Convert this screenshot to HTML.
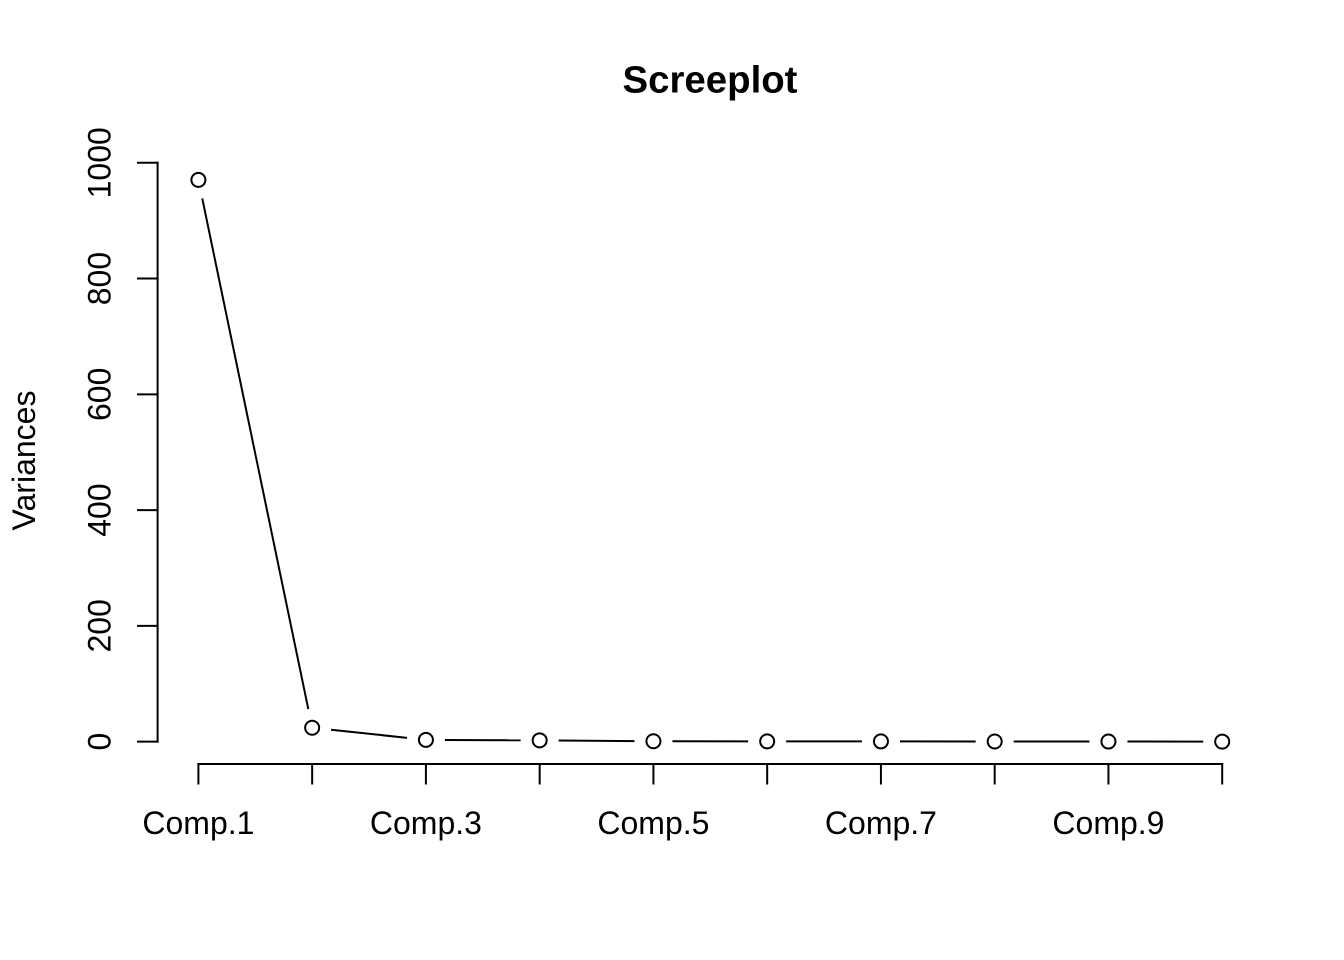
<!DOCTYPE html>
<html>
<head>
<meta charset="utf-8">
<style>
html,body{margin:0;padding:0;background:#fff;}
svg{display:block;}
text{font-family:"Liberation Sans",Arial,sans-serif;fill:#000;}
</style>
</head>
<body>
<svg id="chart" width="1344" height="960" viewBox="0 0 1344 960" xmlns="http://www.w3.org/2000/svg">
<rect width="1344" height="960" fill="#fff"/>
<text x="710" y="92.5" font-size="38.4" font-weight="bold" text-anchor="middle">Screeplot</text>
<text transform="translate(35,460.5) rotate(-90)" font-size="32" text-anchor="middle">Variances</text>
<g id="yaxis"></g>
<g id="xaxis"></g>
<g id="series"></g>
</svg>
<script>
const categories = ["Comp.1","Comp.2","Comp.3","Comp.4","Comp.5","Comp.6","Comp.7","Comp.8","Comp.9","Comp.10"];
const variances = [970.5, 24, 3, 2.2, 0.6, 0.4, 0.3, 0.2, 0.1, 0.05];
const yTicks = [0, 200, 400, 600, 800, 1000];
const xLabels = ["Comp.1","","Comp.3","","Comp.5","","Comp.7","","Comp.9",""];

const NS = "http://www.w3.org/2000/svg";
function xScale(i){ return 198.4 + i * (1222.2 - 198.4) / 9; }
function yScale(v){ return 741.6 - v * (741.6 - 162.8) / 1000; }
function mk(tag, attrs, parent){
  const el = document.createElementNS(NS, tag);
  for (const k in attrs) el.setAttribute(k, attrs[k]);
  parent.appendChild(el);
  return el;
}
const stroke = {stroke:"#000","stroke-width":2,fill:"none","stroke-linecap":"square"};
const yG = document.getElementById("yaxis");
const xG = document.getElementById("xaxis");
const sG = document.getElementById("series");

const yLine = mk("line", {...stroke, x1:157.6, x2:157.6, y1:yScale(yTicks[0]), y2:yScale(yTicks[yTicks.length-1])}, yG);


yTicks.forEach(t => {
  const tick = mk("line", {...stroke, x1:138, x2:157.6, y1:yScale(t), y2:yScale(t)}, yG);
  
  
  const lab = mk("text", {transform:`translate(110.5,${yScale(t)}) rotate(-90)`, "font-size":32, "text-anchor":"middle"}, yG);
  
  
  lab.textContent = t;
});

const xLine = mk("line", {...stroke, x1:xScale(0), x2:xScale(categories.length-1), y1:764, y2:764}, xG);


categories.forEach((c,i) => {
  const tick = mk("line", {...stroke, x1:xScale(i), x2:xScale(i), y1:764, y2:783.5}, xG);
  
  
  if (xLabels[i]) {
    const lab = mk("text", {x:xScale(i), y:834, "font-size":32, "text-anchor":"middle"}, xG);
    
    
    lab.textContent = xLabels[i];
  }
});

// R type="b": segments stop short of each point
const gap = 19;
for (let i = 0; i < variances.length - 1; i++) {
  const x1 = xScale(i), y1 = yScale(variances[i]);
  const x2 = xScale(i+1), y2 = yScale(variances[i+1]);
  const d = Math.hypot(x2-x1, y2-y1);
  const ux = (x2-x1)/d, uy = (y2-y1)/d;
  const seg = mk("line", {stroke:"#000","stroke-width":2,fill:"none", x1:x1+ux*gap, y1:y1+uy*gap, x2:x2-ux*gap, y2:y2-uy*gap}, sG);
  
  
}
variances.forEach((v,i) => {
  const pt = mk("circle", {cx:xScale(i), cy:yScale(v), r:7, stroke:"#000", "stroke-width":2, fill:"#fff"}, sG);
  
  
});
</script>
</body>
</html>
